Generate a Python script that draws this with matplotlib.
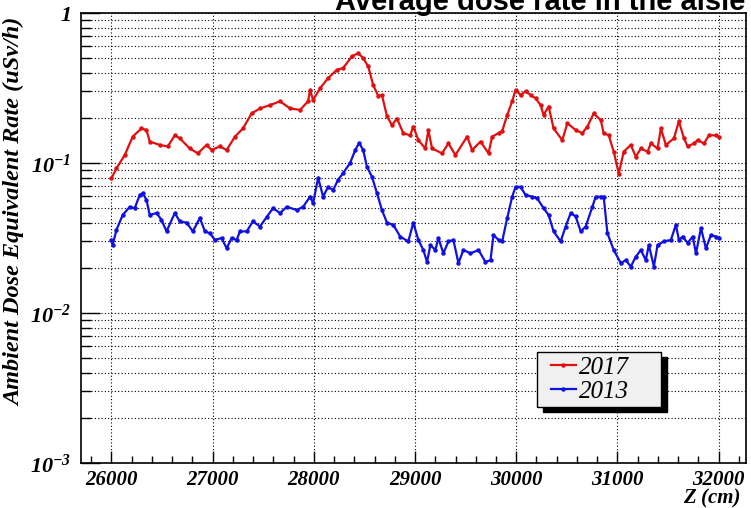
import numpy as np
import matplotlib
matplotlib.use("Agg")
import matplotlib.pyplot as plt
from matplotlib.ticker import FixedLocator, LogLocator, NullFormatter
from matplotlib.patches import Rectangle

# data (Z in cm, dose rate in uSv/h)
z_2017 = [26000, 26050, 26132, 26211, 26297, 26347, 26379, 26478, 26557, 26627,
          26676, 26775, 26854, 26941, 26990, 27072, 27139, 27221, 27300, 27386,
          27468, 27567, 27666, 27765, 27864, 27944, 27963, 27993, 28062, 28141,
          28228, 28290, 28376, 28439, 28488, 28538, 28587, 28637, 28673, 28723,
          28772, 28822, 28884, 28953, 28983, 29033, 29102, 29132, 29168, 29267,
          29330, 29399, 29515, 29564, 29647, 29726, 29762, 29825, 29861, 29911,
          29960, 29993, 30043, 30092, 30142, 30191, 30241, 30270, 30320, 30369,
          30455, 30505, 30587, 30653, 30703, 30765, 30835, 30864, 30914, 30963,
          31013, 31062, 31132, 31181, 31231, 31297, 31330, 31396, 31429, 31478,
          31558, 31607, 31657, 31693, 31756, 31792, 31855, 31904, 31973, 32000]
rate_2017 = [0.079, 0.092, 0.113, 0.150, 0.170, 0.166, 0.139, 0.132, 0.129, 0.153,
             0.146, 0.125, 0.116, 0.132, 0.122, 0.129, 0.122, 0.150, 0.170, 0.214,
             0.231, 0.243, 0.258, 0.231, 0.226, 0.258, 0.307, 0.263, 0.315, 0.368,
             0.418, 0.430, 0.513, 0.540, 0.500, 0.440, 0.330, 0.280, 0.284, 0.205,
             0.179, 0.198, 0.158, 0.153, 0.175, 0.142, 0.125, 0.166, 0.125, 0.116,
             0.135, 0.113, 0.150, 0.122, 0.139, 0.116, 0.150, 0.158, 0.163, 0.209,
             0.258, 0.307, 0.284, 0.300, 0.284, 0.270, 0.243, 0.209, 0.238, 0.170,
             0.142, 0.184, 0.166, 0.158, 0.175, 0.214, 0.193, 0.158, 0.153, 0.119,
             0.085, 0.119, 0.132, 0.110, 0.125, 0.119, 0.135, 0.125, 0.170, 0.132,
             0.146, 0.190, 0.146, 0.129, 0.135, 0.142, 0.135, 0.153, 0.153, 0.150]

z_2013 = [26000, 26013, 26050, 26112, 26181, 26231, 26280, 26310, 26347, 26379,
          26446, 26495, 26545, 26627, 26676, 26743, 26805, 26874, 26924, 26973,
          27023, 27089, 27139, 27188, 27238, 27270, 27337, 27399, 27468, 27535,
          27597, 27666, 27733, 27832, 27894, 27963, 27993, 28043, 28092, 28141,
          28191, 28240, 28290, 28359, 28409, 28448, 28488, 28525, 28574, 28624,
          28673, 28723, 28785, 28854, 28934, 28983, 29033, 29082, 29119, 29152,
          29201, 29231, 29280, 29330, 29379, 29429, 29478, 29548, 29627, 29696,
          29746, 29775, 29825, 29861, 29911, 29960, 29993, 30043, 30092, 30158,
          30208, 30270, 30320, 30369, 30439, 30488, 30538, 30587, 30637, 30686,
          30752, 30785, 30835, 30864, 30901, 30963, 31033, 31082, 31132, 31181,
          31231, 31280, 31310, 31360, 31396, 31458, 31528, 31577, 31607, 31644,
          31693, 31743, 31776, 31825, 31874, 31924, 31973, 32000]
rate_2013 = [0.0307, 0.0284, 0.0358, 0.045, 0.051, 0.050, 0.0612, 0.063, 0.0567, 0.045,
             0.0464, 0.0418, 0.035, 0.0464, 0.0408, 0.040, 0.035, 0.043, 0.035, 0.034,
             0.0307, 0.0316, 0.027, 0.0316, 0.0307, 0.035, 0.035, 0.0408, 0.0377, 0.0437,
             0.050, 0.0464, 0.051, 0.0486, 0.051, 0.0596, 0.054, 0.0797, 0.0596, 0.0693,
             0.066, 0.0773, 0.0857, 0.100, 0.122, 0.136, 0.122, 0.0944, 0.0812, 0.063,
             0.0486, 0.040, 0.0387, 0.0323, 0.030, 0.040, 0.0307, 0.0263, 0.0219, 0.0284,
             0.0263, 0.0316, 0.025, 0.030, 0.0307, 0.0215, 0.0263, 0.025, 0.0263, 0.0219,
             0.0225, 0.0331, 0.0307, 0.030, 0.043, 0.0596, 0.0693, 0.0693, 0.0612, 0.0596,
             0.058, 0.050, 0.045, 0.035, 0.030, 0.0377, 0.0464, 0.044, 0.035, 0.0377,
             0.051, 0.0596, 0.0596, 0.0596, 0.034, 0.0263, 0.0215, 0.0225, 0.0204, 0.0237,
             0.0263, 0.0225, 0.0284, 0.0204, 0.0284, 0.030, 0.0307, 0.0387, 0.0307, 0.0323,
             0.0293, 0.0323, 0.025, 0.0368, 0.027, 0.0331, 0.0323, 0.0315]

x_ticks = [26000, 27000, 28000, 29000, 30000, 31000, 32000]
y_ticks = [1e-3, 1e-2, 1e-1, 1]
y_ticklabels = ["$10^{-3}$", "$10^{-2}$", "$10^{-1}$", "$1$"]

plt.rcParams["mathtext.fontset"] = "custom"
plt.rcParams["mathtext.rm"] = "Liberation Serif:italic:bold"
plt.rcParams["mathtext.it"] = "Liberation Serif:italic:bold"
plt.rcParams["mathtext.default"] = "rm"

serif_bi = dict(family="Liberation Serif", style="italic", weight="bold")

W, H = 751, 508
fig = plt.figure(figsize=(W / 100, H / 100), dpi=100)
ax = fig.add_axes([81 / W, 45 / H, 665 / W, 450 / H])

ax.plot(z_2017, rate_2017, color="#e01010", lw=1.6, marker="o", ms=2.2, label="2017")
ax.plot(z_2013, rate_2013, color="#1010e0", lw=1.6, marker="o", ms=2.2, label="2013")

ax.set_yscale("log")
ax.set_xlim(25700, 32270)
ax.set_ylim(1e-3, 1)

# ticks, ROOT style
ax.xaxis.set_major_locator(FixedLocator(x_ticks))
ax.xaxis.set_minor_locator(FixedLocator(np.arange(25800, 32270, 200)))
ax.set_yticks(y_ticks)
ax.set_yticklabels(y_ticklabels)
ax.yaxis.set_minor_locator(LogLocator(base=10, subs=np.arange(2, 10)))
ax.yaxis.set_minor_formatter(NullFormatter())
ax.tick_params(axis="both", which="both", direction="in", top=False, right=False)
ax.tick_params(axis="x", which="major", length=9, width=1, pad=5)
ax.tick_params(axis="x", which="minor", length=5, width=1)
ax.tick_params(axis="y", which="major", length=14, width=1, pad=7)
ax.tick_params(axis="y", which="minor", length=7, width=1)
for lab in ax.get_xticklabels():
    lab.set_fontproperties(dict(size=15, **serif_bi))
for lab in ax.get_yticklabels():
    lab.set_fontsize(16)

ax.grid(True, which="major", axis="x", color="black", ls=(0, (1, 2)), lw=0.8)
ax.grid(True, which="both", axis="y", color="black", ls=(0, (1, 2)), lw=0.8)
for sp in ax.spines.values():
    sp.set_linewidth(1.2)

fig.text(15 / W, 1 - 18 / H, "Ambient Dose Equivalent Rate (uSv/h)", rotation=90,
         ha="center", va="top", fontsize=17.5, **serif_bi)
fig.text(741 / W, 1 - 503 / H, "Z (cm)", ha="right", va="baseline",
         fontsize=15, **serif_bi)
fig.text(745 / W, 1 - 10 / H, "Average dose rate in the aisle", ha="right",
         va="baseline", fontsize=21, weight="bold", family="Liberation Sans")

# legend box with hard shadow
bx0, by0, bx1, by1 = 537, 352, 661, 407
fig.patches.append(Rectangle(((bx0 + 6) / W, 1 - (by1 + 5) / H), (bx1 - bx0) / W,
                             (by1 - by0) / H, transform=fig.transFigure,
                             facecolor="black", edgecolor="black", zorder=5))
fig.patches.append(Rectangle((bx0 / W, 1 - by1 / H), (bx1 - bx0) / W, (by1 - by0) / H,
                             transform=fig.transFigure, facecolor="#f0f0f0",
                             edgecolor="black", lw=1, zorder=6))
leg = fig.legend(loc="center left", bbox_to_anchor=((bx0 - 4) / W, 1 - (by0 + by1) / 2 / H),
                 frameon=False, handlelength=1.0, handletextpad=0.15, labelspacing=0.05,
                 borderpad=0.2, prop=dict(family="Liberation Serif", style="italic", size=18))
leg.set_zorder(7)

fig.savefig("out.png", dpi=100, facecolor="white")
